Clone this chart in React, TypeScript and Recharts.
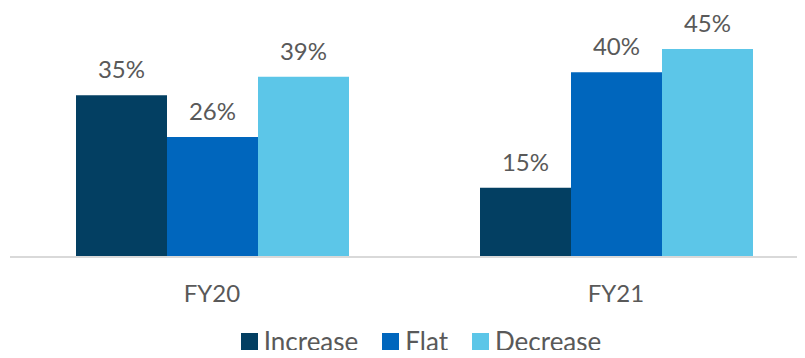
import { BarChart, Bar, XAxis, YAxis, Legend, LabelList } from "recharts";

const categories = ["FY20", "FY21"];
const increase = [35, 15];
const flat = [26, 40];
const decrease = [39, 45];

const seriesKeys = ["increase", "flat", "decrease"];
const seriesNames = ["Increase", "Flat", "Decrease"];
const seriesColors = ["#033F62", "#0066BD", "#5CC6E8"];

const data = categories.map((c, i) => ({
  name: c,
  increase: increase[i],
  flat: flat[i],
  decrease: decrease[i],
}));

const FONT = "Lato, 'Open Sans', sans-serif";
const TEXT = "#595959";

function LegendContent() {
  return (
    <div
      style={{
        display: "flex",
        justifyContent: "center",
        alignItems: "center",
        fontFamily: FONT,
        fontSize: 26,
        lineHeight: "30px",
        height: 30,
        color: TEXT,
        paddingLeft: 14,
      }}
    >
      {seriesNames.map((n, i) => (
        <div key={n} style={{ display: "flex", alignItems: "center", marginRight: i < 2 ? 24 : 0 }}>
          <span style={{ width: 17, height: 17, background: seriesColors[i], marginRight: 6, display: "inline-block" }} />
          <span>{n}</span>
        </div>
      ))}
    </div>
  );
}

export default function App() {
  return (
    <div style={{ margin: -8, width: 805, height: 358, overflow: "hidden", background: "#fff" }}>
      <BarChart
        width={818}
        height={358}
        data={data}
        margin={{ top: 26, right: 0, left: 10, bottom: 0 }}
        barCategoryGap={66}
        barGap={0}
      >
        <XAxis
          dataKey="name"
          height={71}
          tickLine={false}
          axisLine={{ stroke: "#D9D9D9", strokeWidth: 2 }}
          tickSize={0}
          tickMargin={28}
          tick={{ fill: TEXT, fontSize: 24, fontFamily: FONT }}
        />
        <YAxis hide domain={[0, 50]} />
        <Legend
          verticalAlign="bottom"
          height={30}
          wrapperStyle={{ top: 326, bottom: "auto" }}
          content={<LegendContent />}
        />
        {seriesKeys.map((k, i) => (
          <Bar key={k} dataKey={k} name={seriesNames[i]} fill={seriesColors[i]} isAnimationActive={false}>
            <LabelList
              dataKey={k}
              position="top"
              offset={17}
              formatter={(v: any) => `${v}%`}
              style={{ fill: TEXT, fontSize: 24, fontFamily: FONT }}
            />
          </Bar>
        ))}
      </BarChart>
    </div>
  );
}
